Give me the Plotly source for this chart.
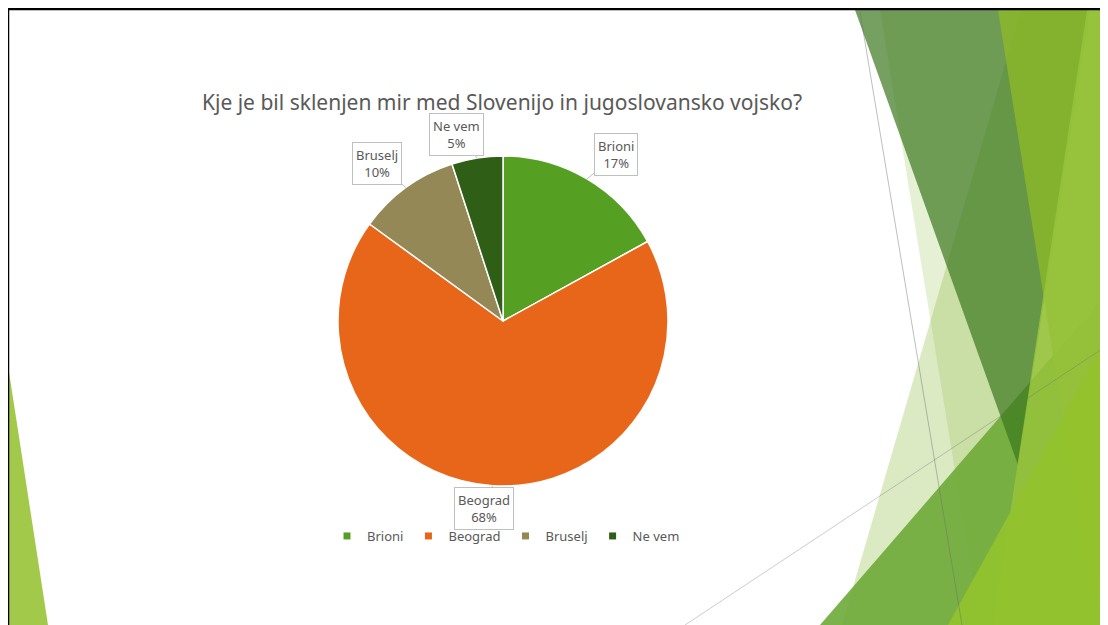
import math
import plotly.graph_objects as go

# data
categories = ["Brioni", "Beograd", "Bruselj", "Ne vem"]
shares = [17, 68, 10, 5]
title_text = "Kje je bil sklenjen mir med Slovenijo in jugoslovansko vojsko?"

slice_colors = ["#55A023", "#E8661A", "#938856", "#2F5F16"]

# the page body has an 8px margin, so the figure is drawn 8px in from the corner
OFF = 8
W, H = 1108, 625            # screen size the layout is measured in
FW, FH = W - OFF, H - OFF   # actual figure size
CX, CY, R = 503, 321, 165   # pie centre / radius in screen px
FONT = "Noto Sans"
TXT = "#595959"


def px(x, y):
    return (x - OFF) / FW, 1 - (y - OFF) / FH


def poly(points, color, layer="below"):
    d = "M " + " L ".join("{:.5f},{:.5f}".format(*px(x, y)) for x, y in points) + " Z"
    return dict(type="path", xref="paper", yref="paper", path=d,
                fillcolor=color, line=dict(width=0), layer=layer)


def seg(p0, p1, color, width):
    x0, y0 = px(*p0)
    x1, y1 = px(*p1)
    return dict(type="line", xref="paper", yref="paper", x0=x0, y0=y0, x1=x1, y1=y1,
                line=dict(color=color, width=width))


fig = go.Figure()

dx0, dy1 = px(CX - R, CY - R)
dx1, dy0 = px(CX + R, CY + R)
fig.add_trace(go.Pie(
    labels=categories, values=shares, sort=False, direction="clockwise", rotation=0,
    marker=dict(colors=slice_colors, line=dict(color="white", width=1.5)),
    textinfo="none", hoverinfo="label+percent", showlegend=False,
    domain=dict(x=[dx0, dx1], y=[dy0, dy1]),
))

# legend entries with small square swatches
for name, col in zip(categories, slice_colors):
    fig.add_trace(go.Scatter(x=[None], y=[None], mode="markers", name=name,
                             marker=dict(symbol="square", size=7, color=col)))

# callout labels placed from each slice's mid angle
total = sum(shares)
box_offsets = [(29, -24), (-9, 23), (-29, -24), (-21, -24)]  # px offsets of boxes from slice edge
annotations = []
acc = 0
for name, v, (ox, oy) in zip(categories, shares, box_offsets):
    mid = (acc + v / 2) / total * 2 * math.pi
    acc += v
    x, y = px(CX + R * math.sin(mid), CY - R * math.cos(mid))
    annotations.append(dict(
        x=x, y=y, xref="paper", yref="paper", ax=ox, ay=oy,
        text=f"{name}<br>{round(v / total * 100)}%",
        showarrow=True, arrowhead=0, arrowwidth=1, arrowcolor="#BFBFBF", standoff=0,
        bgcolor="white", bordercolor="#BFBFBF", borderwidth=1, borderpad=3,
        font=dict(family=FONT, size=13, color=TXT), align="center",
    ))

tx, ty = px(502, 103)
lx, ly = px(506, 536)

# slide decoration (Facet-style translucent shards)
shapes = [
    poly([(880, 10), (1108, 10), (1108, 625), (980, 625)], "rgba(140,185,60,0.22)"),
    poly([(1021, 10), (1108, 10), (1108, 625), (842, 625)], "rgba(140,185,60,0.30)"),
    poly([(1108, 292), (1108, 625), (820, 625)], "rgba(110,170,55,0.90)"),
    poly([(855, 10), (1090, 10), (1018, 465)], "rgba(60,120,30,0.70)"),
    poly([(998, 10), (1108, 10), (1108, 625), (1096, 625)], "rgba(140,185,40,0.80)"),
    poly([(1087, 10), (1108, 10), (1108, 625), (993, 625)], "rgba(150,195,60,0.85)"),
    poly([(1108, 335), (1108, 625), (948, 625)], "rgba(146,194,44,0.92)"),
    poly([(9, 372), (48, 625), (9, 625)], "#A2C94A"),
    seg((860, 12), (962, 625), "rgba(110,110,110,0.45)", 1),
    seg((685, 625), (1108, 345), "rgba(110,110,110,0.35)", 1),
    # slide frame
    seg((7, 9), (1108, 9), "black", 2.5),
    seg((8, 8), (8, 625), "black", 2.5),
]

fig.update_layout(
    width=FW, height=FH,
    margin=dict(l=0, r=0, t=0, b=0),
    paper_bgcolor="white", plot_bgcolor="rgba(0,0,0,0)",
    xaxis=dict(visible=False), yaxis=dict(visible=False),
    title=dict(text=title_text, x=tx, y=ty, xanchor="center", yanchor="middle",
               font=dict(family=FONT, size=21, color=TXT)),
    legend=dict(orientation="h", x=lx, y=ly, xanchor="center", yanchor="middle",
                font=dict(family=FONT, size=13, color=TXT), bgcolor="rgba(0,0,0,0)",
                itemclick=False),
    annotations=annotations,
    shapes=shapes,
    showlegend=True,
)

fig.write_html("out.html")
